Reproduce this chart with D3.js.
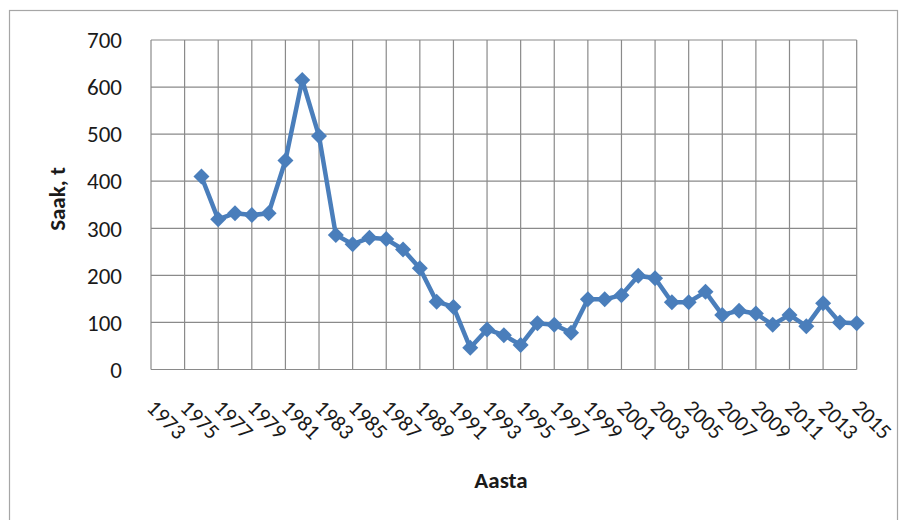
<!DOCTYPE html>
<html>
<head>
<meta charset="utf-8">
<script src="https://cdn.jsdelivr.net/npm/d3@7"></script>
<style>
  html, body { margin: 0; padding: 0; background: #ffffff; }
  svg { display: block; }
  text { font-family: Carlito, Calibri, Lato, "Open Sans", sans-serif; fill: #1a1a1a; }
</style>
</head>
<body>
<svg id="chart" width="908" height="520"></svg>
<script>
// Catch per year (tonnes), 1976–2015
const years = d3.range(1976, 2016);
const catchValues = [410, 319, 332, 328, 332, 444, 615, 496, 286, 266,
                     280, 277, 255, 215, 144, 133, 46, 85, 73, 52,
                     98, 95, 78, 149, 149, 158, 199, 194, 143, 143,
                     165, 116, 125, 119, 95, 116, 92, 141, 100, 98];

// Axis categories and tick labels
const categories = d3.range(1973, 2016);
const xTickLabels = d3.range(1973, 2016, 2);
const yTickValues = [0, 100, 200, 300, 400, 500, 600, 700];

const yTitle = "Saak, t";
const xTitle = "Aasta";

const svg = d3.select("#chart");
const plot = { left: 151, right: 856.7, top: 40, bottom: 369.5 };

const x = d3.scalePoint().domain(categories).range([plot.left, plot.right]);
const y = d3.scaleLinear().domain([0, 700]).range([plot.bottom, plot.top]);

// Outer chart frame
svg.append("rect")
  .attr("x", 9.5).attr("y", 10.5)
  .attr("width", 888).attr("height", 540)
  .attr("fill", "none").attr("stroke", "#a6a6a6").attr("stroke-width", 1.2);

// Horizontal gridlines
svg.append("g")
  .selectAll("line")
  .data(yTickValues)
  .join("line")
  .attr("x1", plot.left).attr("x2", plot.right)
  .attr("y1", d => y(d)).attr("y2", d => y(d))
  .attr("stroke", "#8a8a8a").attr("stroke-width", 1.2);

// Vertical gridlines every second year
svg.append("g")
  .selectAll("line")
  .data(xTickLabels)
  .join("line")
  .attr("x1", d => x(d)).attr("x2", d => x(d))
  .attr("y1", plot.top).attr("y2", plot.bottom)
  .attr("stroke", "#8a8a8a").attr("stroke-width", 1.2);

// Y axis labels
svg.append("g")
  .selectAll("text")
  .data(yTickValues)
  .join("text")
  .attr("x", 122)
  .attr("y", d => y(d))
  .attr("dy", "0.36em")
  .attr("text-anchor", "end")
  .attr("font-size", 23)
  .text(d => d);

// X axis labels, rotated
svg.append("g")
  .selectAll("text")
  .data(xTickLabels)
  .join("text")
  .attr("transform", d => `translate(${x(d) - 5.5},409) rotate(45)`)
  .attr("text-anchor", "start")
  .attr("font-size", 22)
  .text(d => d);

// Axis titles
svg.append("text")
  .attr("x", 501).attr("y", 488)
  .attr("text-anchor", "middle")
  .attr("font-size", 23).attr("font-weight", "bold")
  .text(xTitle);

svg.append("text")
  .attr("transform", "translate(65,199) rotate(-90)")
  .attr("text-anchor", "middle")
  .attr("font-size", 23).attr("font-weight", "bold")
  .text(yTitle);

// Series
const series = years.map((yr, i) => ({ year: yr, value: catchValues[i] }));
const blue = "#4a7ebb";

svg.append("path")
  .datum(series)
  .attr("fill", "none")
  .attr("stroke", blue)
  .attr("stroke-width", 4.5)
  .attr("stroke-linejoin", "round")
  .attr("d", d3.line().x(d => x(d.year)).y(d => y(d.value)));

// Square diamond marker
const diamond = {
  draw(context, size) {
    const r = Math.sqrt(size / 2);
    context.moveTo(0, -r);
    context.lineTo(r, 0);
    context.lineTo(0, r);
    context.lineTo(-r, 0);
    context.closePath();
  }
};

svg.append("g")
  .selectAll("path")
  .data(series)
  .join("path")
  .attr("transform", d => `translate(${x(d.year)},${y(d.value)})`)
  .attr("d", d3.symbol().type(diamond).size(128))
  .attr("fill", blue);
</script>
</body>
</html>
